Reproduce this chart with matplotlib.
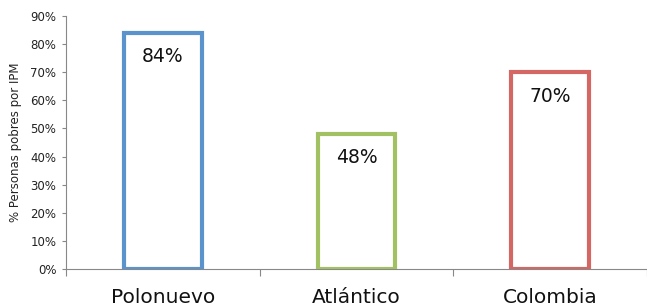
import matplotlib
matplotlib.use("Agg")
import matplotlib.pyplot as plt
from matplotlib.ticker import PercentFormatter

categories = ["Polonuevo", "Atlántico", "Colombia"]
values = [84, 48, 70]
colors = ["#5B93CC", "#A2C163", "#D46663"]

fig = plt.figure(figsize=(6.47, 3.07), dpi=100)
ax = fig.add_axes([0.102, 0.124, 0.898, 0.824])

x = range(len(categories))
ax.bar(x, values, width=0.4, color="white", edgecolor=colors, linewidth=3, zorder=3)

for i, v in enumerate(values):
    ax.text(i, v - 8.5, f"{v}%", ha="center", va="center", fontsize=13.5,
            family="DejaVu Sans", color="#111111", zorder=4)

ax.set_xlim(-0.5, 2.5)
ax.set_ylim(0, 90)
ax.set_yticks(range(0, 91, 10))
ax.yaxis.set_major_formatter(PercentFormatter(decimals=0))
ax.tick_params(axis="y", labelsize=8.5, length=3, color="#888888", pad=4,
               labelcolor="#222222")

ax.set_xticks([-0.5, 0.5, 1.5, 2.5])
ax.set_xticklabels([])
ax.tick_params(axis="x", which="major", length=5, color="#888888")
ax.set_xticks(list(x), minor=True)
ax.set_xticklabels(categories, minor=True, fontsize=14.5, family="DejaVu Sans",
                   color="#111111")
ax.tick_params(axis="x", which="minor", length=0, pad=14)

ax.set_ylabel("% Personas pobres por IPM", fontsize=8.5, labelpad=6,
              color="#222222")

for s in ["top", "right"]:
    ax.spines[s].set_visible(False)
for s in ["left", "bottom"]:
    ax.spines[s].set_color("#888888")
    ax.spines[s].set_linewidth(0.8)

fig.savefig("out.png", dpi=100)
